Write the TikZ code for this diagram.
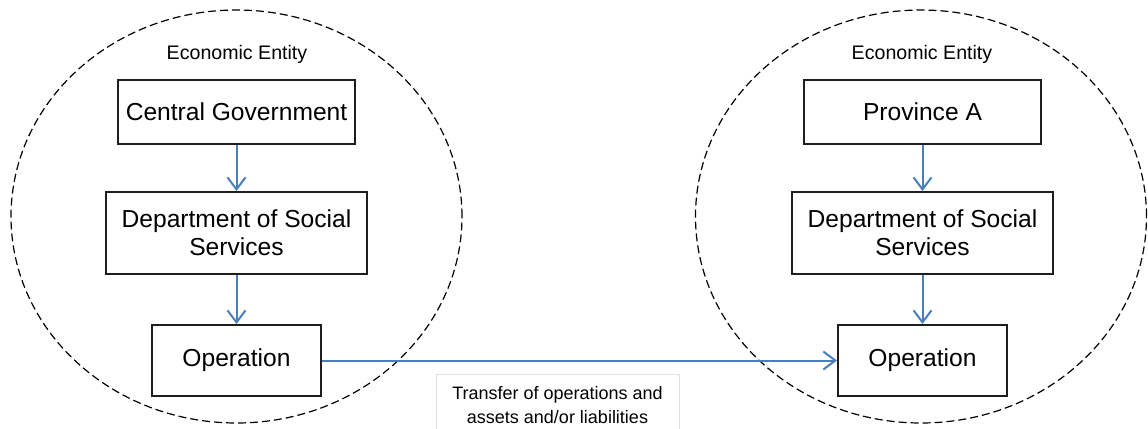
\documentclass[tikz,border=0pt]{standalone}
\usepackage{fontspec}
\setmainfont{Liberation Sans}
\usetikzlibrary{shapes.geometric, arrows.meta, positioning}
\definecolor{arrowcolor}{RGB}{74, 126, 187}
\definecolor{boxcolor}{RGB}{30, 30, 30}
\definecolor{notecolor}{RGB}{225, 225, 225}
\tikzset{
    % Base styles
    basenode/.style={
        draw=boxcolor, line width=1pt, align=center,
        font=\fontsize{12.3}{14}\selectfont,
        inner sep=2pt
    },
    % Specific node types
    topnode/.style={basenode, minimum width=118.5pt, minimum height=32pt},
    deptnode/.style={basenode, minimum width=130.5pt, minimum height=41pt},
    opnode/.style={basenode, minimum width=84.5pt, minimum height=35.5pt},
    % Entity boundary
    entity/.style={
        ellipse, draw, line width=0.6pt, dash pattern=on 4pt off 2pt,
        minimum width=225.5pt, minimum height=206.5pt, inner sep=0pt
    },
    % Arrows
    myarrow/.style={-{Straight Barb[length=6pt, width=9pt]}, line width=1pt, arrowcolor},
    % Labels
    entitylabel/.style={font=\fontsize{9.8}{12}\selectfont},
    notebox/.style={draw=notecolor, line width=0.5pt, align=center,
        font=\fontsize{9}{12}\selectfont, minimum width=121.5pt, minimum height=31pt},
}
\begin{document}
\begin{tikzpicture}[x=0.5pt, y=-0.5pt]
\useasboundingbox (0,0) rectangle (1148,429);

% ===== Left entity =====
\node (leftent) [entity] at (236.5, 216.5) {};
\node (leftlabel) [entitylabel] at (237, 54) {Economic Entity};
\node (central) [topnode] at (236.5, 112) {Central Government};
\node (leftdept) [deptnode, below=23pt of central] {Department of Social\\Services};
\node (leftop) [opnode, below=24.5pt of leftdept] {Operation};

\draw[myarrow] (central) -- (leftdept);
\draw[myarrow] (leftdept) -- (leftop);

% ===== Right entity =====
\node (rightent) [entity] at (921, 216.5) {};
\node (rightlabel) [entitylabel] at (922, 54) {Economic Entity};
\node (province) [topnode] at (922.5, 112) {Province A};
\node (rightdept) [deptnode, below=23pt of province] {Department of Social\\Services};
\node (rightop) [opnode, below=24.5pt of rightdept] {Operation};

\draw[myarrow] (province) -- (rightdept);
\draw[myarrow] (rightdept) -- (rightop);

% ===== Transfer =====
\draw[myarrow] (leftop) -- (rightop);
\node (transfer) [notebox] at (557.5, 405) {Transfer of operations and\\assets and/or liabilities};

\end{tikzpicture}
\end{document}
